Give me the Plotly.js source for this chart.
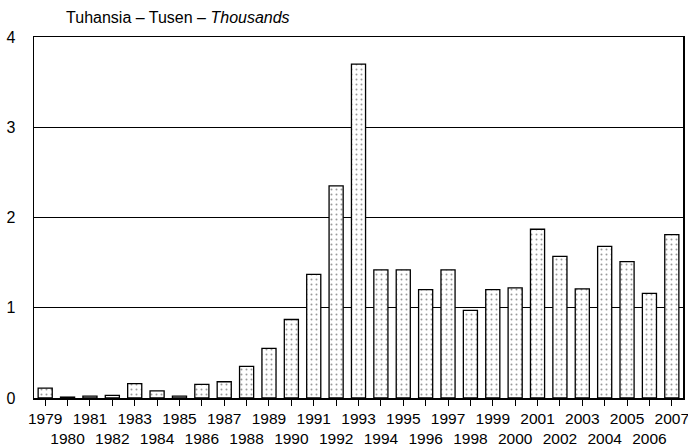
<!DOCTYPE html>
<html><head><meta charset="utf-8">
<script src="https://cdn.plot.ly/plotly-3.0.1.min.js"></script>
<style>html,body{margin:0;padding:0;background:#fff}#c{width:688px;height:448px}</style>
</head><body><div id="c"></div>
<script>
const years = [1979,1980,1981,1982,1983,1984,1985,1986,1987,1988,1989,1990,1991,1992,1993,1994,1995,1996,1997,1998,1999,2000,2001,2002,2003,2004,2005,2006,2007];
const values = [0.11,0.01,0.02,0.03,0.16,0.08,0.02,0.15,0.18,0.35,0.55,0.87,1.37,2.35,3.70,1.42,1.42,1.20,1.42,0.97,1.20,1.22,1.87,1.57,1.21,1.68,1.51,1.16,1.81];
const tickLabels = years.map((y,i)=> i%2===0 ? String(y) : '<br>'+y);
const yTicks = [0,1,2,3,4];
const FONT = '"Liberation Sans Narrow", "Arial Narrow", "Liberation Sans", Arial, sans-serif';

Plotly.newPlot('c', [{
  type:'bar', x: years.map(String), y: values, width:0.63,
  marker:{color:'#ffffff', line:{color:'#000', width:1.3},
    pattern:{shape:'.', fgcolor:'#9a9a9a', bgcolor:'#ffffff', size:5, solidity:0.12}},
  hoverinfo:'skip'
}], {
  width:688, height:448,
  margin:{l:34, r:5, t:37, b:50},
  paper_bgcolor:'#fff', plot_bgcolor:'#fff',
  showlegend:false,
  font:{family:FONT, size:16, color:'#000'},
  title:{text:'Tuhansia – Tusen – <i>Thousands</i>', x:34/688, xanchor:'left', xref:'paper', y:0.962, yanchor:'middle', font:{family:FONT, size:16, color:'#000'}},
  xaxis:{type:'category', tickvals:years.map(String), ticktext:tickLabels, range:[-0.5,28.5],
    ticks:'outside', ticklen:6, tickwidth:1, tickcolor:'#000', tickangle:0,
    showline:true, linecolor:'#000', linewidth:1.5, mirror:true, showgrid:false, zeroline:false,
    tickfont:{family:FONT, size:15.5, color:'#000'}},
  yaxis:{range:[0,4], tickvals:yTicks, ticktext:yTicks.map(String), ticks:'', ticklabelstandoff:14,
    showline:true, linecolor:'#000', linewidth:1.5, mirror:true,
    showgrid:true, gridcolor:'#000', gridwidth:1.2, zeroline:false,
    tickfont:{family:FONT, size:16, color:'#000'}}
}, {staticPlot:true});
</script></body></html>
